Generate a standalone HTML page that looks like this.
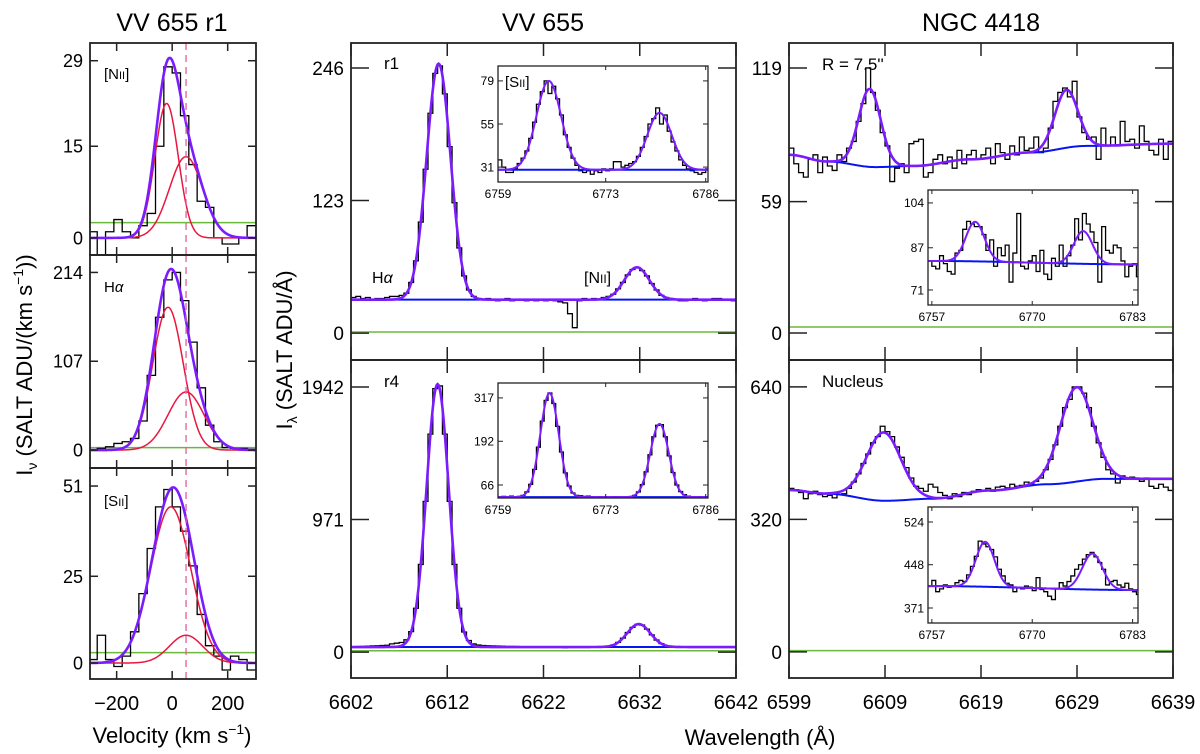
<!DOCTYPE html>
<html><head><meta charset="utf-8"><title>VV 655 and NGC 4418 spectra</title>
<style>
html,body{margin:0;padding:0;background:#fff;}
svg{display:block;font-family:"Liberation Sans","DejaVu Sans",sans-serif;}
</style></head>
<body>
<svg id="fig" width="1200" height="754" viewBox="0 0 1200 754" xmlns="http://www.w3.org/2000/svg">
<rect x="0" y="0" width="1200" height="754" fill="#fff"/>
<text x="172" y="31" font-size="25" text-anchor="middle">VV 655 r1</text>
<text x="543" y="31" font-size="25" text-anchor="middle">VV 655</text>
<text x="981" y="31" font-size="25" text-anchor="middle">NGC 4418</text>
<text x="172" y="743" font-size="22" text-anchor="middle">Velocity (km s<tspan dy="-9" font-size="14">−1</tspan><tspan dy="9">)</tspan></text>
<text x="760" y="745" font-size="22" text-anchor="middle">Wavelength (Å)</text>
<text transform="translate(32,365) rotate(-90)" font-size="22" text-anchor="middle">I<tspan dy="5" font-size="14">ν</tspan><tspan dy="-5"> (SALT ADU/(km s</tspan><tspan dy="-9" font-size="14">−1</tspan><tspan dy="9">))</tspan></text>
<text transform="translate(292,350) rotate(-90)" font-size="22" text-anchor="middle">I<tspan dy="5" font-size="14">λ</tspan><tspan dy="-5"> (SALT ADU/Å)</tspan></text>
<g id="plots"></g>
</svg>
<script>
// ---------- data ----------
const velStart = -300, velStep = 30;
const niiVel = [1,-3,1,3,1,0,2,4,15,28,27,20,12,6,5,0,-1,-1,0,2];
const haVel = [0,2,4,8,10,14,35,90,160,205,214,180,130,75,30,10,3,2,2,1];
const siiVel = [1,8,1,-1,2,9,20,33,45,50,45,38,28,14,5,2,-2,2,1,-2];
const niiAmp = [22,13.3], niiMu = [-20,50], niiSig = [42,60];
const haAmp = [172,70], haMu = [-15,50], haSig = [55,65];
const siiAmp = [45,8], siiMu = [-5,50], siiSig = [72,60];
const velTicks = [-200,0,200];
const niiYTicks = [0,15,29], haYTicks = [0,107,214], siiYTicks = [0,25,51];

const wlStartVV = 6602, wlStep = 0.5;
const r1Flux = [33,34,32,33,31,32,32,33,34,34,35,37,47,67,103,152,204,241,248,222,173,121,79,53,40,34,32,31,32,31,30,31,32,30,31,31,30,31,30,31,30,31,30,29,28,18,5,30,32,31,32,31,33,34,36,41,47,54,59,61,58,53,46,40,35,33,32,31,30,30,31,32,31,30,31,32,32,31,31,30];
const r1Amp = [219,30], r1Mu = [6611.1,6631.7], r1Sig = [1.24,1.3];
const r1ContX = [6602,6642], r1ContY = [31,31];
const r4Flux = [40,41,42,43,45,46,48,50,60,65,70,90,150,321,642,1104,1597,1930,1950,1597,1104,642,321,147,85,60,52,48,46,45,44,43,42,42,41,40,40,40,40,39,39,38,38,36,32,38,38,38,38,38,38,37,37,38,52,71,102,143,181,203,198,168,126,88,62,47,40,38,38,37,37,37,38,37,37,37,38,37,37,37];
const r4Amp = [1926,168], r4Mu = [6611.0,6631.9], r4Sig = [1.15,1.2];
const r4ContX = [6602,6642], r4ContY = [37,37];
const vvXTicks = [6602,6612,6622,6632,6642];
const r1YTicks = [0,123,246], r4YTicks = [0,971,1942];

const insStartVV = 6759;
const r1SiiFlux = [35,31,28,28,30,33,36,40,47,56,66,73,79,72,76,69,60,49,42,36,32,29,28,29,27,29,28,30,29,30,34,34,31,32,33,34,37,42,48,55,58,64,55,60,51,45,40,35,32,30,29,28,27,28,30];
const r1SiiAmp = [49.5,31.7], r1SiiMu = [6765.6,6780.0], r1SiiSig = [1.6,1.6];
const r1SiiContX = [6759,6786.3], r1SiiContY = [29.5,29.5];
const r4SiiFlux = [32,33,31,34,32,33,36,46,68,111,175,250,310,331,301,235,161,101,63,43,36,35,33,34,32,31,32,31,30,31,32,31,30,31,32,36,46,67,104,153,205,238,240,205,150,102,66,47,38,34,32,31,32,31,32];
const r4SiiAmp = [300,211], r4SiiMu = [6765.7,6780.0], r4SiiSig = [1.2,1.2];
const r4SiiContX = [6759,6786.3], r4SiiContY = [31,31];
const vvInsXTicks = [6759,6773,6786];
const r1SiiYTicks = [31,55,79], r4SiiYTicks = [66,192,317];

const wlStartN = 6599;
const outerFlux = [83,76,72,70,78,80,72,79,75,73,80,77,83,86,95,103,119,108,100,90,84,68,74,76,72,85,86,87,70,72,78,80,76,79,74,82,76,80,82,78,80,83,76,85,81,78,84,80,88,82,83,88,81,83,92,104,108,110,106,113,97,90,87,88,78,92,84,88,84,95,86,87,83,93,86,82,80,87,78,86];
const outerAmp = [35,26], outerMu = [6607.4,6627.9], outerSig = [1.15,1.2];
const outerContX = [6599,6603,6608,6612,6618,6624,6630,6639];
const outerContY = [80,77,74.5,75,78,81,84,85];
const nucFlux = [395,392,385,370,382,388,380,375,378,372,380,382,395,410,430,455,478,505,520,545,532,520,495,470,445,420,400,395,388,405,398,385,378,370,382,375,385,380,388,392,390,395,388,398,400,396,405,400,402,410,405,412,420,440,465,500,545,590,610,640,640,625,590,545,505,470,440,430,408,425,418,422,420,412,420,400,395,405,398,390];
const nucAmp = [165,228], nucMu = [6608.85,6628.95], nucSig = [1.8,1.7];
const nucContX = [6599,6603,6609,6614,6620,6626,6632,6639];
const nucContY = [391,382,365,370,390,405,418,418];
const ngcXTicks = [6599,6609,6619,6629,6639];
const outerYTicks = [0,59,119], nucYTicks = [0,320,640];

const insStartN = 6756.5;
const outerSiiFlux = [82,80,79,84,81,78,77,85,86,94,97,96,95,95,92,86,90,80,87,84,88,74,85,100,80,79,82,84,78,86,77,75,83,80,88,80,84,88,98,90,100,96,93,89,74,95,86,85,88,87,82,76,80,81,76];
const outerSiiAmp = [15,12.4], outerSiiMu = [6762.6,6776.6], outerSiiSig = [1.2,1.2];
const outerSiiContX = [6756.5,6783.7], outerSiiContY = [82,80.7];
const nucSiiFlux = [410,420,400,405,412,408,410,416,420,418,430,445,463,490,485,480,475,462,440,428,415,412,400,408,405,410,408,402,425,404,400,392,386,405,416,410,418,428,440,448,458,466,470,462,452,440,412,418,420,412,408,415,405,400,395];
const nucSiiAmp = [80,64], nucSiiMu = [6763.9,6777.8], nucSiiSig = [1.2,1.3];
const nucSiiContX = [6756.5,6783.7], nucSiiContY = [410,403];
const ngcInsXTicks = [6757,6770,6783];
const outerSiiYTicks = [71,87,104], nucSiiYTicks = [371,448,524];

// ---------- drawing ----------
const NS = 'http://www.w3.org/2000/svg';
const root = document.getElementById('plots');
let clipId = 0;
function mk(tag, attrs, parent) {
  const e = document.createElementNS(NS, tag);
  for (const k in attrs) e.setAttribute(k, attrs[k]);
  (parent || root).appendChild(e);
  return e;
}
function interp(xs, ys, x) {
  if (x <= xs[0]) return ys[0];
  for (let i = 1; i < xs.length; i++) {
    if (x <= xs[i]) {
      const t = (x - xs[i-1]) / (xs[i] - xs[i-1]);
      const s = (1 - Math.cos(Math.PI * t)) / 2;
      return ys[i-1] + (ys[i] - ys[i-1]) * s;
    }
  }
  return ys[ys.length - 1];
}
function gauss(a, m, s, x) { return a * Math.exp(-(x - m) * (x - m) / (2 * s * s)); }

function panel(c) {
  const g = mk('g', {});
  
  
  const [X0, X1] = c.px, [Y0, Y1] = c.py;
  const sx = v => X0 + (v - c.xd[0]) / (c.xd[1] - c.xd[0]) * (X1 - X0);
  const sy = v => Y1 - (v - c.yd[0]) / (c.yd[1] - c.yd[0]) * (Y1 - Y0);
  if (c.inset) {
    const bg = mk('rect', {x: X0, y: Y0, width: X1 - X0, height: Y1 - Y0, fill: '#fff'}, g);
    
    
  }
  const cid = 'clip' + (clipId++);
  const cp = mk('clipPath', {id: cid}, g);
  mk('rect', {x: X0, y: Y0, width: X1 - X0, height: Y1 - Y0}, cp);
  const plot = mk('g', {'clip-path': 'url(#' + cid + ')'}, g);
  
  
  if (c.green !== undefined) {
    const gl = mk('line', {x1: X0, x2: X1, y1: sy(c.green), y2: sy(c.green), stroke: '#6cb83a', 'stroke-width': 1.5}, plot);
    
    
  }
  let d = '';
  for (let i = 0; i < c.data.length; i++) {
    const lo = c.start + i * c.step, hi = lo + c.step;
    const y = sy(c.data[i]).toFixed(2);
    d += (i === 0 ? 'M' + sx(lo).toFixed(2) + ',' + y : 'V' + y) + 'H' + sx(hi).toFixed(2);
  }
  const h = mk('path', {d: d, fill: 'none', stroke: '#000', 'stroke-width': 1.3}, plot);
  
  
  const N = 400;
  const cont = x => c.contX ? interp(c.contX, c.contY, x) : 0;
  if (c.showComps) {
    for (let k = 0; k < c.amp.length; k++) {
      let p = '';
      for (let i = 0; i <= N; i++) {
        const x = c.xd[0] + (c.xd[1] - c.xd[0]) * i / N;
        p += (i ? 'L' : 'M') + sx(x).toFixed(2) + ',' + sy(cont(x) + gauss(c.amp[k], c.mu[k], c.sig[k], x)).toFixed(2);
      }
      const cc = mk('path', {d: p, fill: 'none', stroke: '#e8173f', 'stroke-width': 1.5}, plot);
      
      
    }
  }
  if (c.contX) {
    let p = '';
    for (let i = 0; i <= N; i++) {
      const x = c.xd[0] + (c.xd[1] - c.xd[0]) * i / N;
      p += (i ? 'L' : 'M') + sx(x).toFixed(2) + ',' + sy(cont(x)).toFixed(2);
    }
    const cl = mk('path', {d: p, fill: 'none', stroke: '#0a14f0', 'stroke-width': 2}, plot);
    
    
  }
  let p = '';
  for (let i = 0; i <= N; i++) {
    const x = c.xd[0] + (c.xd[1] - c.xd[0]) * i / N;
    let v = cont(x);
    for (let k = 0; k < c.amp.length; k++) v += gauss(c.amp[k], c.mu[k], c.sig[k], x);
    p += (i ? 'L' : 'M') + sx(x).toFixed(2) + ',' + sy(v).toFixed(2);
  }
  const tf = mk('path', {d: p, fill: 'none', stroke: '#7b1cff', 'stroke-width': c.inset ? 2 : 2.6}, plot);
  
  
  if (c.dash !== undefined) {
    const dl = mk('line', {x1: sx(c.dash), x2: sx(c.dash), y1: Y0, y2: Y1, stroke: '#e0609a', 'stroke-width': 1.3, 'stroke-dasharray': '7,5'}, plot);
    
    
  }
  const fr = mk('rect', {x: X0, y: Y0, width: X1 - X0, height: Y1 - Y0, fill: 'none', stroke: '#222', 'stroke-width': c.inset ? 1.3 : 1.8}, g);
  
  
  const tl = c.tickLen, tk = c.inset ? 1 : 1.5;
  c.yticks.forEach(v => {
    const y = sy(v);
    mk('line', {x1: X0, x2: X0 + tl, y1: y, y2: y, stroke: '#222', 'stroke-width': tk}, g);
    mk('line', {x1: X1, x2: X1 - tl, y1: y, y2: y, stroke: '#222', 'stroke-width': tk}, g);
    const t = mk('text', {x: X0 - (c.inset ? 4 : 7), y: y + c.fs * 0.36, 'font-size': c.fs, 'text-anchor': 'end'}, g);
    t.textContent = v;
    
    
  });
  c.xticks.forEach(v => {
    const x = sx(v);
    mk('line', {x1: x, x2: x, y1: Y1, y2: Y1 - c.xtl, stroke: '#222', 'stroke-width': tk}, g);
    mk('line', {x1: x, x2: x, y1: Y0, y2: Y0 + c.xtl, stroke: '#222', 'stroke-width': tk}, g);
    if (c.xlabels) {
      let lab = v < 0 ? '−' + (-v) : String(v);
      const t = mk('text', {x: x, y: Y1 + (c.inset ? 16 : 31), 'font-size': c.inset ? c.fs : 20, 'text-anchor': 'middle'}, g);
      t.textContent = lab;
      
      
    }
  });
  return g;
}
function label(x, y, size, html, name) {
  const t = mk('text', {x: x, y: y, 'font-size': size});
  t.innerHTML = html;
  
  
}

panel({name: 'panel-nii-velocity', px: [90, 256], py: [43, 255], xd: [-296, 302], yd: [-2.8, 31.9], yticks: niiYTicks, xticks: velTicks, xlabels: false, tickLen: 8, xtl: 8, fs: 18, data: niiVel, start: velStart, step: velStep, amp: niiAmp, mu: niiMu, sig: niiSig, showComps: true, green: 2.5, dash: 50});
panel({name: 'panel-halpha-velocity', px: [90, 256], py: [255, 468], xd: [-296, 302], yd: [-21.6, 235], yticks: haYTicks, xticks: velTicks, xlabels: false, tickLen: 8, xtl: 8, fs: 18, data: haVel, start: velStart, step: velStep, amp: haAmp, mu: haMu, sig: haSig, showComps: true, green: 3, dash: 50});
panel({name: 'panel-sii-velocity', px: [90, 256], py: [468, 679], xd: [-296, 302], yd: [-4.6, 56.2], yticks: siiYTicks, xticks: velTicks, xlabels: true, tickLen: 8, xtl: 8, fs: 18, data: siiVel, start: velStart, step: velStep, amp: siiAmp, mu: siiMu, sig: siiSig, showComps: true, green: 3, dash: 50});
label(104, 79, 15, '[N<tspan font-size="11">II</tspan>]', 'label-nii');
label(104, 292, 15, 'H<tspan font-style="italic">α</tspan>', 'label-halpha-left');
label(104, 506, 15, '[S<tspan font-size="11">II</tspan>]', 'label-sii-left');

panel({name: 'panel-vv655-r1', px: [351, 736], py: [43, 360], xd: [6602, 6642], yd: [-25, 269.2], yticks: r1YTicks, xticks: vvXTicks, xlabels: false, tickLen: 18, xtl: 13, fs: 19, data: r1Flux, start: wlStartVV, step: wlStep, amp: r1Amp, mu: r1Mu, sig: r1Sig, contX: r1ContX, contY: r1ContY, green: 1});
panel({name: 'panel-vv655-r4', px: [351, 736], py: [360, 678], xd: [6602, 6642], yd: [-190, 2140], yticks: r4YTicks, xticks: vvXTicks, xlabels: true, tickLen: 18, xtl: 13, fs: 19, data: r4Flux, start: wlStartVV, step: wlStep, amp: r4Amp, mu: r4Mu, sig: r4Sig, contX: r4ContX, contY: r4ContY, green: 10});
panel({name: 'inset-vv655-r1-sii', inset: true, px: [498, 708], py: [66, 182], xd: [6759, 6786.3], yd: [22.7, 87.3], yticks: r1SiiYTicks, xticks: vvInsXTicks, xlabels: true, tickLen: 5, xtl: 4, fs: 12, data: r1SiiFlux, start: insStartVV, step: wlStep, amp: r1SiiAmp, mu: r1SiiMu, sig: r1SiiSig, contX: r1SiiContX, contY: r1SiiContY});
panel({name: 'inset-vv655-r4-sii', inset: true, px: [498, 708], py: [383, 498], xd: [6759, 6786.3], yd: [28.5, 360], yticks: r4SiiYTicks, xticks: vvInsXTicks, xlabels: true, tickLen: 5, xtl: 4, fs: 12, data: r4SiiFlux, start: insStartVV, step: wlStep, amp: r4SiiAmp, mu: r4SiiMu, sig: r4SiiSig, contX: r4SiiContX, contY: r4SiiContY});
label(384, 69, 17, 'r1', 'label-r1');
label(372, 283, 16, 'H<tspan font-style="italic">α</tspan>', 'label-halpha');
label(584, 283, 16, '[N<tspan font-size="12">II</tspan>]', 'label-nii-middle');
label(505, 87, 15, '[S<tspan font-size="11">II</tspan>]', 'label-sii-inset');
label(384, 387, 17, 'r4', 'label-r4');

panel({name: 'panel-ngc4418-outer', px: [789, 1173], py: [43, 360], xd: [6599, 6639], yd: [-12.1, 130.2], yticks: outerYTicks, xticks: ngcXTicks, xlabels: false, tickLen: 18, xtl: 13, fs: 19, data: outerFlux, start: wlStartN, step: wlStep, amp: outerAmp, mu: outerMu, sig: outerSig, contX: outerContX, contY: outerContY, green: 2.7});
panel({name: 'panel-ngc4418-nucleus', px: [789, 1173], py: [360, 678], xd: [6599, 6639], yd: [-63, 705], yticks: nucYTicks, xticks: ngcXTicks, xlabels: true, tickLen: 18, xtl: 13, fs: 19, data: nucFlux, start: wlStartN, step: wlStep, amp: nucAmp, mu: nucMu, sig: nucSig, contX: nucContX, contY: nucContY, green: 3});
panel({name: 'inset-ngc4418-outer-sii', inset: true, px: [928, 1138], py: [190, 305], xd: [6756.5, 6783.7], yd: [65.3, 108.9], yticks: outerSiiYTicks, xticks: ngcInsXTicks, xlabels: true, tickLen: 5, xtl: 4, fs: 12, data: outerSiiFlux, start: insStartN, step: wlStep, amp: outerSiiAmp, mu: outerSiiMu, sig: outerSiiSig, contX: outerSiiContX, contY: outerSiiContY});
panel({name: 'inset-ngc4418-nucleus-sii', inset: true, px: [928, 1138], py: [507, 623], xd: [6756.5, 6783.7], yd: [344.3, 550.7], yticks: nucSiiYTicks, xticks: ngcInsXTicks, xlabels: true, tickLen: 5, xtl: 4, fs: 12, data: nucSiiFlux, start: insStartN, step: wlStep, amp: nucSiiAmp, mu: nucSiiMu, sig: nucSiiSig, contX: nucSiiContX, contY: nucSiiContY});
label(822, 70, 17, 'R = 7.5\'\'', 'label-radius');
label(822, 387, 17, 'Nucleus', 'label-nucleus');
</script>
</body></html>
